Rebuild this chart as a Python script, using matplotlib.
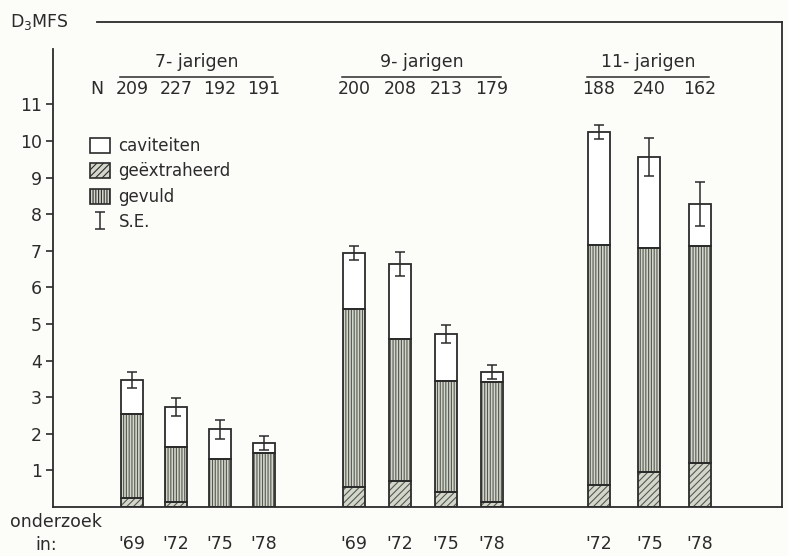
import matplotlib
matplotlib.use("Agg")
import matplotlib.pyplot as plt
from matplotlib.patches import Patch
import numpy as np

# data (D3MFS per child)
groups = ["7- jarigen", "9- jarigen", "11- jarigen"]
years = [["'69", "'72", "'75", "'78"],
         ["'69", "'72", "'75", "'78"],
         ["'72", "'75", "'78"]]
n_children = [[209, 227, 192, 191],
              [200, 208, 213, 179],
              [188, 240, 162]]
extracted = [0.25, 0.14, 0.0, 0.0, 0.55, 0.71, 0.41, 0.14, 0.60, 0.96, 1.20]
filled = [2.29, 1.50, 1.31, 1.47, 4.86, 3.88, 3.03, 3.27, 6.56, 6.12, 5.93]
cavities = [0.93, 1.09, 0.82, 0.28, 1.53, 2.05, 1.29, 0.28, 3.08, 2.48, 1.15]
se = [0.22, 0.25, 0.26, 0.20, 0.20, 0.34, 0.24, 0.20, 0.20, 0.52, 0.60]

ink = "#2b2b2b"
hatch_ink = "#55584f"
grey = "#d3d6cb"
fs = 12.5

plt.rcParams["font.family"] = "DejaVu Sans"
plt.rcParams["hatch.linewidth"] = 0.8

fig = plt.figure(figsize=(7.88, 5.56), dpi=100, facecolor="#fcfcf9")
ax = fig.add_axes([53 / 788, 49 / 556, 729 / 788, 485 / 556])
ax.set_facecolor("#fcfcf9")

# bar layout (x units ~ pixels from the left axis)
starts = [79, 301, 546]
steps = [44, 46, 50.5]
xs = []
for g, s in enumerate(starts):
    xs.append([s + steps[g] * i for i in range(len(years[g]))])
x = np.concatenate(xs)
width = 22

extracted = np.array(extracted)
filled = np.array(filled)
cavities = np.array(cavities)
total = extracted + filled + cavities

# hatched layers drawn with the hatch colour, outlines on top
ax.bar(x, extracted, width, color=grey, edgecolor=hatch_ink, hatch="/////", lw=0, zorder=2)
ax.bar(x, filled, width, bottom=extracted, color=grey, edgecolor=hatch_ink, hatch="||||||", lw=0, zorder=2)
ax.bar(x, cavities, width, bottom=extracted + filled, color="white", lw=0, zorder=2)
for bottom, h in [(0, extracted), (extracted, filled), (extracted + filled, cavities)]:
    ax.bar(x, h, width, bottom=bottom, fill=False, edgecolor=ink, lw=1.3, zorder=3)
eb = ax.errorbar(x, total, yerr=se, fmt="none", ecolor=ink, elinewidth=1.1, capsize=3.5, capthick=1.1, zorder=4)

ax.set_xlim(0, 729)
ax.set_ylim(0, 13.25)

# frame: left axis stops below top line, top line starts after the label
for side in ["left", "right", "top", "bottom"]:
    ax.spines[side].set_color(ink)
    ax.spines[side].set_linewidth(1.3)
ax.spines["left"].set_bounds(0, 12.5)
ax.spines["top"].set_bounds(44, 729)

ax.set_yticks(range(1, 12))
ax.set_yticklabels([str(i) for i in range(1, 12)], fontsize=fs, color=ink)
ax.tick_params(axis="y", length=5, width=1.2, color=ink, pad=3)
ax.set_xticks(x)
ax.set_xticklabels(sum(years, []), fontsize=fs, color=ink)
ax.tick_params(axis="x", length=0, pad=20)

# group headers with N
for g, gx in enumerate(xs):
    x0, x1 = gx[0] - 12, gx[-1] + 9
    ax.plot([x0, x1], [11.75, 11.75], color=ink, lw=1.1, clip_on=False)
    ax.text((x0 + x1) / 2, 12.17, groups[g], ha="center", va="center", fontsize=fs, color=ink)
    for xi, n in zip(gx, n_children[g]):
        ax.text(xi, 11.43, str(n), ha="center", va="center", fontsize=fs, color=ink)
ax.text(44, 11.43, "N", ha="center", va="center", fontsize=fs, color=ink)

# legend
handles = [Patch(facecolor="white", edgecolor=ink, lw=1.2),
           Patch(facecolor=grey, edgecolor=ink, hatch="/////", lw=1.2),
           Patch(facecolor=grey, edgecolor=ink, hatch="||||||", lw=1.2),
           eb]
leg = ax.legend(handles, ["caviteiten", "geëxtraheerd", "gevuld", "S.E."],
                loc="upper left", bbox_to_anchor=(0.042, 0.777), frameon=False,
                fontsize=fs - 0.5, handlelength=1.2, handleheight=1.0,
                handletextpad=0.5, labelspacing=0.45, borderaxespad=0)
for t in leg.get_texts():
    t.set_color(ink)

fig.text(10 / 788, 1 - 22 / 556, "D$_3$MFS", ha="left", va="center", fontsize=fs, color=ink)
fig.text(10 / 788, 1 - 522 / 556, "onderzoek", ha="left", va="center", fontsize=fs, color=ink)
fig.text(35 / 788, 1 - 545 / 556, "in:", ha="left", va="center", fontsize=fs, color=ink)

fig.savefig("out.png", dpi=100, facecolor=fig.get_facecolor())
